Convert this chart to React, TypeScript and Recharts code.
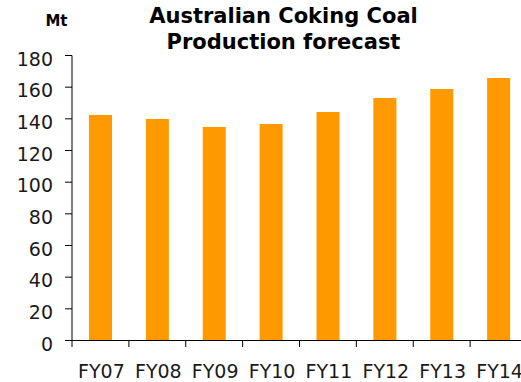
import React from "react";
import { BarChart, Bar, XAxis, YAxis } from "recharts";

// Australian coking coal production by financial year (Mt)
const years = ["FY07", "FY08", "FY09", "FY10", "FY11", "FY12", "FY13", "FY14"];
const production = [142.4, 139.9, 134.9, 136.7, 144.3, 153.2, 158.9, 165.8];
const yTicks = [0, 20, 40, 60, 80, 100, 120, 140, 160, 180];

const data = years.map((year, i) => ({ year, production: production[i] }));

const FONT = "'DejaVu Sans', Verdana, sans-serif";
const TEXT = "#1a1a1a";

// Category tick: label under the band centre, tick mark on the band's left edge
const XTick = (props: any) => {
  const { x, y, payload } = props;
  const half = payload && typeof payload.offset === "number" ? payload.offset : 0;
  return (
    <g>
      <line x1={x - half} y1={y} x2={x - half} y2={y + 6.5} stroke="#000" strokeWidth={1} />
      <text x={x + 1} y={y + 37.5} textAnchor="middle" fontFamily={FONT} fontSize={19} fill={TEXT}>
        {payload.value}
      </text>
    </g>
  );
};

const YTick = (props: any) => {
  const { x, y, payload } = props;
  return (
    <text x={x} y={y + 10} textAnchor="end" fontFamily={FONT} fontSize={19} fill={TEXT}>
      {payload.value}
    </text>
  );
};

export default function App() {
  return (
    <div
      style={{
        position: "absolute",
        left: 0,
        top: 0,
        width: 521,
        height: 382,
        overflow: "hidden",
        background: "#fff",
      }}
    >
      <BarChart
        width={530}
        height={382}
        data={data}
        margin={{ top: 55.5, right: 3, bottom: 0, left: 0 }}
      >
        <XAxis
          dataKey="year"
          height={41.5}
          axisLine={{ stroke: "#000", strokeWidth: 1 }}
          tickLine={false}
          tickSize={0}
          tickMargin={0}
          interval={0}
          tick={<XTick />}
        />
        <YAxis
          width={72}
          domain={[0, 180]}
          ticks={yTicks}
          interval={0}
          axisLine={{ stroke: "#000", strokeWidth: 1 }}
          tickLine={{ stroke: "#000", strokeWidth: 1 }}
          tickSize={7}
          tickMargin={12}
          tick={<YTick />}
        />
        <Bar dataKey="production" fill="#FF9900" barSize={23} isAnimationActive={false} />
      </BarChart>
      <svg
        width={521}
        height={60}
        style={{ position: "absolute", left: 0, top: 0, pointerEvents: "none" }}
      >
        <text x={56.5} y={26} textAnchor="middle" fontFamily={FONT} fontWeight="bold" fontSize={15} fill="#000">
          Mt
        </text>
        <text x={283.5} y={23.3} textAnchor="middle" fontFamily={FONT} fontWeight="bold" fontSize={21} fill="#000">
          Australian Coking Coal
        </text>
        <text x={283.5} y={48.5} textAnchor="middle" fontFamily={FONT} fontWeight="bold" fontSize={21} fill="#000">
          Production forecast
        </text>
      </svg>
    </div>
  );
}
